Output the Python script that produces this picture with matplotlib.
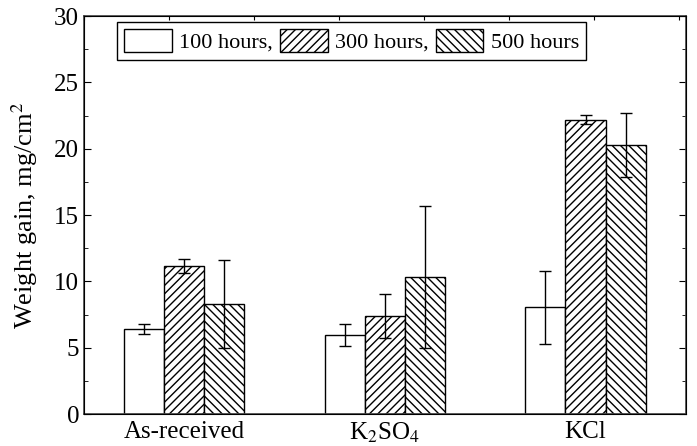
import matplotlib
matplotlib.use("Agg")
import matplotlib.pyplot as plt
import numpy as np

plt.rcParams['font.family'] = ['Liberation Serif', 'DejaVu Serif']
plt.rcParams['mathtext.fontset'] = 'stix'
plt.rcParams['hatch.linewidth'] = 1.0

categories = ['As-received', 'K$_2$SO$_4$', 'KCl']
series = ['100 hours,', '300 hours,', '500 hours']
hatches = ['', '////', '\\\\\\\\']

gain_100 = [6.4, 5.95, 8.05]
gain_300 = [11.15, 7.4, 22.2]
gain_500 = [8.3, 10.3, 20.3]
err_100 = [0.4, 0.85, 2.75]
err_300 = [0.5, 1.65, 0.35]
err_500 = [3.3, 5.35, 2.4]

values = [gain_100, gain_300, gain_500]
errors = [err_100, err_300, err_500]

fig = plt.figure(figsize=(6.97, 4.46), dpi=100)
ax = fig.add_axes([0.1205, 0.0717, 0.8635, 0.8923])

x = np.arange(1, len(categories) + 1)
w = 0.2
for i in range(3):
    ax.bar(x + (i - 1) * w, values[i], w, color='white', edgecolor='black',
           linewidth=1.0, hatch=hatches[i], label=series[i],
           yerr=errors[i], capsize=4,
           error_kw=dict(ecolor='black', elinewidth=1.0, capthick=1.0))

ax.set_xlim(0.5, 3.5)
ax.set_ylim(0, 30)
ax.set_xticks(x)
ax.set_xticklabels(categories, fontsize=18)
ax.set_yticks(np.arange(0, 31, 5))
ax.set_yticks(np.arange(2.5, 30, 5), minor=True)
ax.tick_params(axis='y', which='both', direction='in', right=True, labelsize=18)
ax.tick_params(axis='y', which='major', length=5)
ax.tick_params(axis='y', which='minor', length=3)
ax.tick_params(axis='x', length=0, pad=5)
ax.set_ylabel('Weight gain, mg/cm$^2$', fontsize=19, labelpad=10)
for s in ax.spines.values():
    s.set_linewidth(1.2)
    s.set_color('#444444')

# top edge carries evenly spaced small ticks, unrelated to the categories
top = ax.twiny()
top.set_xlim(0, 602 / 85)
top.set_xticks(np.arange(0, 8))
top.set_xticklabels([])
top.tick_params(axis='x', direction='in', length=3)

ax.legend(loc='upper left', bbox_to_anchor=(0.055, 0.985), borderaxespad=0,
          ncol=3, fontsize=16, frameon=True, fancybox=False, edgecolor='black',
          framealpha=1, handlelength=2.15, handleheight=1.25, handletextpad=0.35,
          columnspacing=0.3, borderpad=0.3)

fig.savefig('out.png', dpi=100)
